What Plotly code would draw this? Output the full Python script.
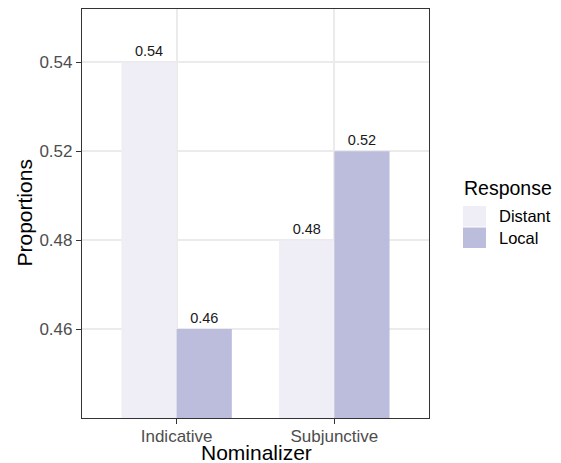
import plotly.graph_objects as go

# ---- data ----
nominalizer = ["Indicative", "Subjunctive"]
distant = [0.54, 0.48]
local = [0.46, 0.52]
y_tick_labels = [0.46, 0.48, 0.52, 0.54]   # the y scale is discrete: one level per value
response_levels = ["Distant", "Local"]
colors = {"Distant": "#efedf5", "Local": "#bcbddc"}

# discrete y scale: each value sits at its level index (1..n)
def level(v):
    return y_tick_labels.index(v) + 1

FONT = "Liberation Sans, Arial, sans-serif"

# page is 561x463 but the html body has an 8px margin -> figure is drawn from (8, 8)
OFF = 8
W, H = 561 - OFF, 463 - OFF
# target panel in page pixels
L, R, T, B = 82 - OFF, 429 - OFF, 9 - OFF, 418 - OFF
pw, ph = R - L, B - T

def px(x):  # page x -> paper
    return (x - OFF - L) / pw

def py(y):  # page y -> paper
    return (B - (y - OFF)) / ph

fig = go.Figure()
for name, vals in zip(response_levels, [distant, local]):
    fig.add_trace(go.Bar(
        x=nominalizer,
        y=[level(v) for v in vals],
        name=name,
        marker=dict(color=colors[name], line=dict(width=0)),
        text=[f"{v:.2f}" for v in vals],
        textposition="outside",
        textfont=dict(family=FONT, size=14.5, color="#1a1a1a"),
        cliponaxis=False,
        showlegend=False,
        hoverinfo="x+text+name",
    ))

shapes = []
annotations = []
# manual legend (ggplot style)
key_y = [(206, 226.5), (227.5, 248)]
for name, (y0, y1) in zip(response_levels, key_y):
    shapes.append(dict(type="rect", xref="paper", yref="paper",
                       x0=px(463), x1=px(486), y0=py(y1), y1=py(y0),
                       fillcolor=colors[name], line=dict(width=0)))
    annotations.append(dict(text=name, xref="paper", yref="paper",
                            x=px(497), y=py((y0 + y1) / 2), xanchor="left", yanchor="middle",
                            showarrow=False, font=dict(family=FONT, size=16.5, color="#000000")))
annotations.append(dict(text="Response", xref="paper", yref="paper",
                        x=px(462), y=py(188), xanchor="left", yanchor="middle",
                        showarrow=False, font=dict(family=FONT, size=19.5, color="#000000")))
# axis titles
annotations.append(dict(text="Nominalizer", xref="paper", yref="paper",
                        x=px(256), y=py(452), xanchor="center", yanchor="middle",
                        showarrow=False, borderpad=0,
                        font=dict(family=FONT, size=21, color="#000000")))
annotations.append(dict(text="Proportions", xref="paper", yref="paper", textangle=-90,
                        x=px(24), y=py(213.5), xanchor="center", yanchor="middle",
                        showarrow=False, font=dict(family=FONT, size=21, color="#000000")))

fig.update_layout(
    template="none",
    width=W, height=H,
    margin=dict(l=L, r=W - R, t=T, b=H - B, pad=0, autoexpand=False),
    paper_bgcolor="white", plot_bgcolor="white",
    barmode="group", bargap=0.3, bargroupgap=0,
    font=dict(family=FONT, color="#000000"),
    shapes=shapes, annotations=annotations,
    showlegend=False,
)
fig.update_xaxes(
    type="category", range=[-0.6, 1.6], automargin=False,
    showgrid=True, gridcolor="#EBEBEB", gridwidth=1.5,
    showline=True, linecolor="#333333", linewidth=1.2, mirror=True,
    ticks="outside", ticklen=5, tickcolor="#333333", tickwidth=1.2,
    tickfont=dict(family=FONT, size=17, color="#4D4D4D"),
    ticklabelstandoff=-3,
    zeroline=False,
)
fig.update_yaxes(
    range=[0, 4.6], automargin=False,
    tickvals=[level(v) for v in y_tick_labels],
    ticktext=[f"{v:.2f}" for v in y_tick_labels],
    showgrid=True, gridcolor="#EBEBEB", gridwidth=1.5,
    showline=True, linecolor="#333333", linewidth=1.2, mirror=True,
    ticks="outside", ticklen=5, tickcolor="#333333", tickwidth=1.2,
    tickfont=dict(family=FONT, size=17, color="#4D4D4D"),
    zeroline=False,
)

fig.write_html("out.html")
